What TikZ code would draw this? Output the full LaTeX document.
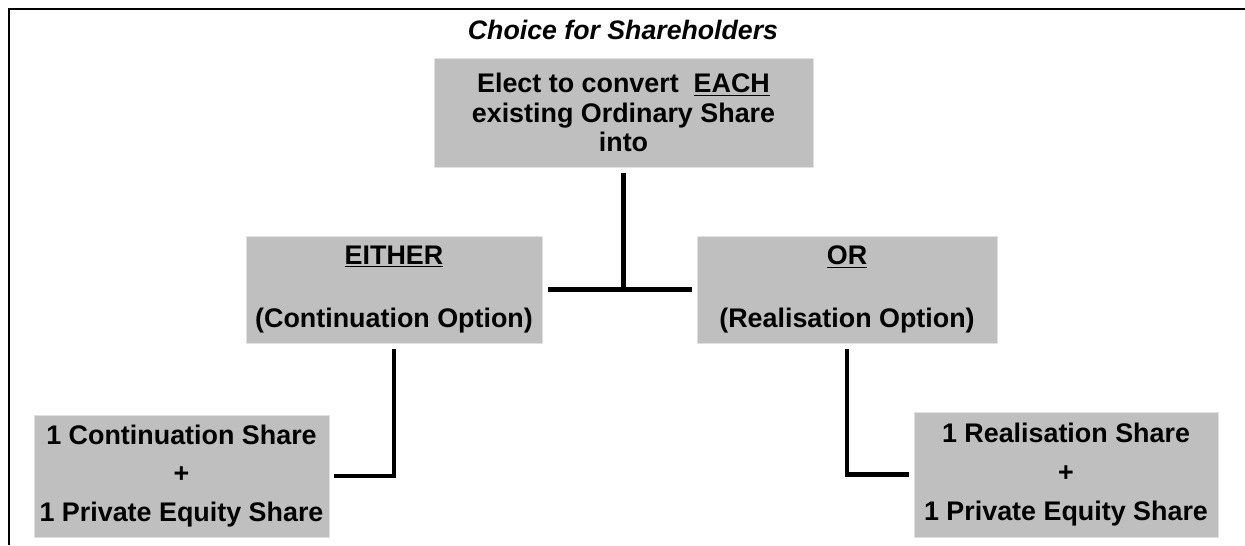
\documentclass[tikz,border=0pt]{standalone}
\usepackage{fontspec}
\setmainfont{Liberation Sans}
\begin{document}
\begin{tikzpicture}[x=0.02cm,y=-0.02cm,
  box/.style={fill=black!25,draw=black!12,inner sep=0pt,align=center,font=\bfseries\fontsize{15.3}{17}\selectfont},
  link/.style={line width=2.6pt,shorten <=0.12cm,shorten >=0.1cm}]
\useasboundingbox (0,0) rectangle (1245,545);
\draw [line width=1.6pt] (1245,9) -- (9,9) -- (9,545);

\node (title) at (623,30) {\bfseries\itshape\fontsize{15.2}{17}\selectfont Choice for Shareholders};

\node [box, minimum width=7.58cm, minimum height=2.18cm] (top) at (623.5,112.5)
  {Elect to convert \ \underline{EACH}\\ existing Ordinary Share\\ into};
\node [box, minimum width=5.92cm, minimum height=2.14cm] (either) at (394,289.5)
  {\underline{EITHER}\\[19pt] (Continuation Option)};
\node [box, minimum width=6cm, minimum height=2.14cm] (or) at (847,289.5)
  {\underline{OR}\\[19pt] (Realisation Option)};
\node [box, minimum width=5.9cm, minimum height=2.44cm] (cont) at (181.5,476)
  {1 Continuation Share\\[5pt] +\\[5pt] 1 Private Equity Share};
\node [box, minimum width=6.08cm, minimum height=2.5cm] (real) at (1066,474.5)
  {1 Realisation Share\\[5pt] +\\[5pt] 1 Private Equity Share};

\draw [link, shorten >=0pt] (top.south) -- (top.south |- either.east);
\draw [link] (either.east) -- (or.west);
\draw [link] (either.south) |- (cont.east);
\draw [link] (or.south) |- (real.west);
\end{tikzpicture}
\end{document}
